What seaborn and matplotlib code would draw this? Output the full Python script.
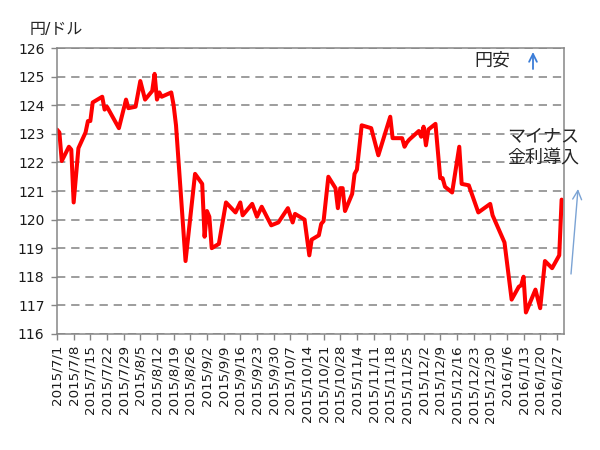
import numpy as np
import pandas as pd
import seaborn as sns
import matplotlib.pyplot as plt

# USD/JPY
dates = ["2015-07-01", "2015-07-02", "2015-07-03", "2015-07-06", "2015-07-07", "2015-07-08",
         "2015-07-10", "2015-07-13", "2015-07-14", "2015-07-15", "2015-07-16", "2015-07-17",
         "2015-07-20", "2015-07-21", "2015-07-22", "2015-07-27", "2015-07-30", "2015-07-31",
         "2015-08-03", "2015-08-05", "2015-08-07", "2015-08-10", "2015-08-11", "2015-08-12",
         "2015-08-13", "2015-08-14", "2015-08-18", "2015-08-19", "2015-08-20", "2015-08-24",
         "2015-08-28", "2015-08-31", "2015-09-01", "2015-09-02", "2015-09-03", "2015-09-04",
         "2015-09-07", "2015-09-10", "2015-09-14", "2015-09-16", "2015-09-17", "2015-09-21",
         "2015-09-23", "2015-09-25", "2015-09-29", "2015-10-02", "2015-10-06", "2015-10-08",
         "2015-10-09", "2015-10-13", "2015-10-15", "2015-10-16", "2015-10-19", "2015-10-20",
         "2015-10-21", "2015-10-23", "2015-10-26", "2015-10-27", "2015-10-28", "2015-10-29",
         "2015-10-30", "2015-11-02", "2015-11-03", "2015-11-04", "2015-11-06", "2015-11-10",
         "2015-11-13", "2015-11-18", "2015-11-19", "2015-11-23", "2015-11-24", "2015-11-25",
         "2015-11-26", "2015-11-30", "2015-12-01", "2015-12-02", "2015-12-03", "2015-12-04",
         "2015-12-07", "2015-12-09", "2015-12-10", "2015-12-11", "2015-12-14", "2015-12-17",
         "2015-12-18", "2015-12-21", "2015-12-25", "2015-12-30", "2015-12-31", "2016-01-05",
         "2016-01-08", "2016-01-11", "2016-01-12", "2016-01-13", "2016-01-14", "2016-01-18",
         "2016-01-20", "2016-01-22", "2016-01-25", "2016-01-28", "2016-01-29"]
rate = [123.15, 123.05, 122.05, 122.55, 122.45, 120.6,
        122.5, 123.05, 123.45, 123.45, 124.1, 124.15,
        124.3, 123.85, 123.95, 123.2, 124.2, 123.9,
        123.95, 124.85, 124.2, 124.5, 125.1, 124.2,
        124.45, 124.3, 124.45, 124.0, 123.3, 118.55,
        121.6, 121.25, 119.4, 120.3, 120.1, 119.0,
        119.15, 120.6, 120.25, 120.6, 120.15, 120.55,
        120.1, 120.45, 119.8, 119.9, 120.4, 119.9,
        120.2, 120.0, 118.75, 119.3, 119.45, 119.85,
        119.95, 121.5, 121.1, 120.4, 121.1, 121.1,
        120.3, 120.9, 121.6, 121.75, 123.3, 123.2,
        122.25, 123.6, 122.85, 122.85, 122.55, 122.7,
        122.8, 123.1, 122.9, 123.25, 122.6, 123.15,
        123.35, 121.45, 121.45, 121.15, 120.95, 122.55,
        121.25, 121.2, 120.25, 120.55, 120.15, 119.2,
        117.2, 117.65, 117.7, 118.0, 116.75, 117.55,
        116.9, 118.55, 118.3, 118.75, 120.7]

df = pd.DataFrame({"date": pd.to_datetime(dates), "rate": rate})

sns.set_style("white")
plt.rcParams['font.family'] = ['DejaVu Sans', 'Noto Sans CJK JP']

fig = plt.figure(figsize=(6, 4.5), dpi=100)
ax = fig.add_axes([0.095, 0.258, 0.845, 0.635])

sns.lineplot(data=df, x="date", y="rate", color="#ff0000", linewidth=2.9, ax=ax)

ax.set_ylim(116, 126)
ax.set_yticks(np.arange(116, 127, 1))
ax.yaxis.grid(True, color="#8c8c8c", linestyle=(0, (5, 3.5)), linewidth=1.2)
ax.xaxis.grid(False)

# weekly ticks
ticks = pd.date_range("2015-07-01", "2016-01-27", freq="7D")
ax.set_xticks(ticks)
ax.set_xticklabels([f"{d.year}/{d.month}/{d.day}" for d in ticks], rotation=90)
ax.set_xlim(pd.Timestamp("2015-07-01"), pd.Timestamp("2016-01-30"))

ax.tick_params(axis="both", direction="out", length=4, width=1, color="#868686",
               labelcolor="#1a1a1a", bottom=True, left=True)
ax.tick_params(axis="x", pad=4, labelsize=9.7)
ax.tick_params(axis="y", pad=5, labelsize=10)
for s in ax.spines.values():
    s.set_color("#868686")
    s.set_linewidth(1.1)

ax.set_xlabel("")
ax.set_ylabel("")

fig.text(0.05, 0.935, "円/ドル", fontsize=11.5, va="center", ha="left")
fig.text(0.79, 0.866, "円安", fontsize=13, va="center", ha="left")
ax.annotate("", xy=(533 / 600, 1 - 52 / 450), xytext=(533 / 600, 1 - 69 / 450),
            xycoords="figure fraction",
            arrowprops=dict(arrowstyle="->", color="#3b7dd8", lw=1.3,
                            mutation_scale=14, shrinkA=0, shrinkB=0))
fig.text(0.905, 0.672, "マイナス\n金利導入", fontsize=13, va="center", ha="center",
         linespacing=1.3)
ax.annotate("", xy=(578 / 600, 1 - 189 / 450), xytext=(571 / 600, 1 - 274 / 450),
            xycoords="figure fraction",
            arrowprops=dict(arrowstyle="->", color="#7ba3d4", lw=1.0,
                            mutation_scale=16, shrinkA=0, shrinkB=0))

plt.savefig("out.png", dpi=100)
